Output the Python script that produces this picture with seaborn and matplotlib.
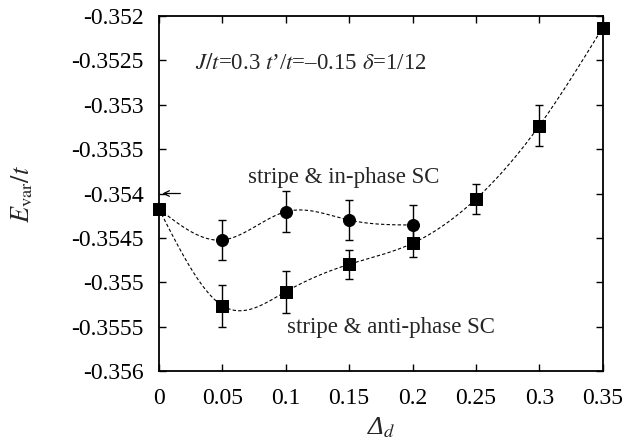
import numpy as np
import pandas as pd
import matplotlib
matplotlib.use("Agg")
import matplotlib.pyplot as plt
import seaborn as sns

# ---- data ----
anti_x = [0.0, 0.05, 0.10, 0.15, 0.20, 0.25, 0.30, 0.35]
anti_y = [-0.354175, -0.355264, -0.355106, -0.354798, -0.354561, -0.354062, -0.353236, -0.352132]
anti_err = [0.0, 0.000235, 0.000235, 0.00016, 0.00016, 0.000165, 0.00023, 0.0]

inph_x = [0.0, 0.05, 0.10, 0.15, 0.20]
inph_y = [-0.354175, -0.354524, -0.354205, -0.354299, -0.354355]
inph_err = [0.0, 0.000225, 0.000228, 0.000229, 0.000230]

xticks = [0, 0.05, 0.1, 0.15, 0.2, 0.25, 0.3, 0.35]
xticklabels = ["0", "0.05", "0.1", "0.15", "0.2", "0.25", "0.3", "0.35"]
yticks = [-0.356, -0.3555, -0.355, -0.3545, -0.354, -0.3535, -0.353, -0.3525, -0.352]
yticklabels = ["-0.356", "-0.3555", "-0.355", "-0.3545", "-0.354", "-0.3535", "-0.353", "-0.3525", "-0.352"]


def natural_spline(x, y, n=300):
    x = np.asarray(x, float); y = np.asarray(y, float)
    k = len(x)
    h = np.diff(x)
    A = np.zeros((k, k)); b = np.zeros(k)
    A[0, 0] = 1; A[-1, -1] = 1
    for i in range(1, k - 1):
        A[i, i - 1] = h[i - 1]; A[i, i] = 2 * (h[i - 1] + h[i]); A[i, i + 1] = h[i]
        b[i] = 6 * ((y[i + 1] - y[i]) / h[i] - (y[i] - y[i - 1]) / h[i - 1])
    M = np.linalg.solve(A, b)
    xs = np.linspace(x[0], x[-1], n)
    ys = np.empty_like(xs)
    for j, xv in enumerate(xs):
        i = min(np.searchsorted(x, xv, side="right") - 1, k - 2)
        t1 = x[i + 1] - xv; t0 = xv - x[i]
        ys[j] = (M[i] * t1 ** 3 / (6 * h[i]) + M[i + 1] * t0 ** 3 / (6 * h[i])
                 + (y[i] / h[i] - M[i] * h[i] / 6) * t1 + (y[i + 1] / h[i] - M[i + 1] * h[i] / 6) * t0)
    return xs, ys


sns.set_style("ticks")
plt.rcParams["font.family"] = ["Liberation Serif", "DejaVu Serif"]
plt.rcParams["mathtext.fontset"] = "stix"

fig = plt.figure(figsize=(6.25, 4.45), dpi=100)
ax = fig.add_axes([0.2544, 0.1663, 0.7099, 0.7977])

sx, sy = natural_spline(anti_x, anti_y)
cx, cy = natural_spline(inph_x, inph_y)
curves = pd.DataFrame({"x": np.concatenate([sx, cx]), "y": np.concatenate([sy, cy]),
                       "s": ["anti"] * len(sx) + ["in"] * len(cx)})
sns.lineplot(data=curves, x="x", y="y", units="s", estimator=None, color="black",
             lw=0.8, dashes=False, ax=ax, legend=False)
for line in ax.lines:
    line.set_dashes((3, 2))

ax.errorbar(anti_x, anti_y, yerr=anti_err, fmt="none", ecolor="black", elinewidth=1, capsize=3, capthick=1)
ax.errorbar(inph_x, inph_y, yerr=inph_err, fmt="none", ecolor="black", elinewidth=1, capsize=3, capthick=1)

sns.scatterplot(x=inph_x, y=inph_y, marker="o", s=75, color="black", edgecolor="black", ax=ax, zorder=5,
                clip_on=False)
sns.scatterplot(x=anti_x, y=anti_y, marker="s", s=80, color="black", edgecolor="black", ax=ax, zorder=6,
                clip_on=False)

ax.set_xlim(0, 0.35)
ax.set_ylim(-0.356, -0.352)
ax.set_xticks(xticks)
ax.set_xticklabels(xticklabels)
ax.set_yticks(yticks)
ax.set_yticklabels(yticklabels)
ax.tick_params(direction="in", length=5, width=1, top=True, right=True, labelsize=17, colors="black")
ax.tick_params(axis="x", pad=12)
ax.tick_params(axis="y", pad=11)
for sp in ax.spines.values():
    sp.set_visible(True)
    sp.set_linewidth(1.3)
    sp.set_color("black")

ax.set_xlabel("Δ$_d$", fontsize=19, style="italic", family="Liberation Serif", labelpad=5)
ax.set_ylabel(r"$E_{\rm var}/t$", fontsize=19, labelpad=26)

ax.text(0.0284, -0.35253, r"$J/t$=0.3 $t$’/$t$=–0.15 $\delta$=1/12", fontsize=16.5, va="center")
ax.text(0.1456, -0.353825, "stripe & in-phase SC", fontsize=16.5, va="center", ha="center")
ax.text(0.1827, -0.355515, "stripe & anti-phase SC", fontsize=16.5, va="center", ha="center")

ax.annotate("", xy=(0.0005, -0.354), xytext=(0.019, -0.354),
            arrowprops=dict(arrowstyle="->", color="black", lw=0.9))

fig.savefig("out.png", dpi=100)
